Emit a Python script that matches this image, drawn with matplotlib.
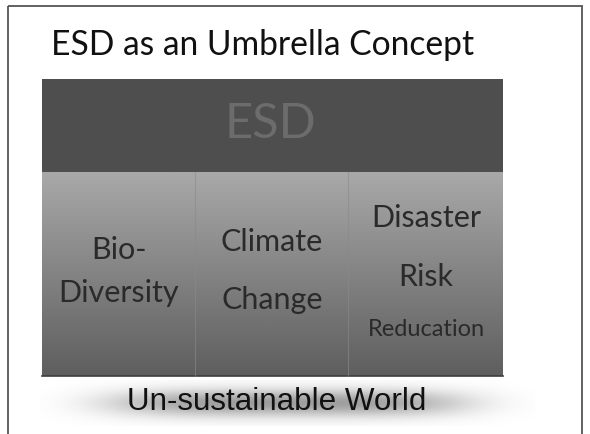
import numpy as np
import matplotlib
matplotlib.use("Agg")
import matplotlib.pyplot as plt
from matplotlib.patches import Rectangle

title = "ESD as an Umbrella Concept"
umbrella = "ESD"
columns = [["Bio-", "Diversity"], ["Climate", "Change"], ["Disaster", "Risk", "Reducation"]]
base = "Un-sustainable World"

fig = plt.figure(figsize=(5.9, 4.34), dpi=100)
ax = fig.add_axes([0, 0, 1, 1])
ax.set_xlim(0, 590)
ax.set_ylim(434, 0)
ax.axis("off")

# outer frame
ax.add_patch(Rectangle((8, 6), 574, 440, fill=False, ec="#555555", lw=1.3))

ax.text(263, 45, title, ha="center", va="center", fontsize=24.2, family="Lato", color="#111111")

# dark umbrella box
L, R = 42, 503
ax.add_patch(Rectangle((L, 79), R - L, 93, fc="#4e4e4e", ec="none"))
ax.text(270, 124, umbrella, ha="center", va="center", fontsize=35, family="Lato", color="#6c6c6c")

# gradient panel
grad = np.linspace(0.66, 0.37, 200).reshape(-1, 1)
ax.imshow(np.repeat(grad, 2, axis=1), cmap="gray", vmin=0, vmax=1, extent=(L, R, 376, 172),
          aspect="auto", interpolation="bicubic", zorder=1)
ax.plot([L, R], [375.5, 375.5], color="#3e3e3e", lw=1.2, zorder=2)
for xd in (195, 348):
    ax.plot([xd, xd], [172, 376], color="#8a8a8a", lw=0.8, alpha=0.6, zorder=2)

txt_kw = dict(ha="center", va="center", family="Lato", color="#2a2a2a", zorder=3)
col_x = [119, 272, 426]
col_y = [[250, 293], [242, 300], [218, 277, 330]]
col_fs = [[22, 22], [22, 22], [22, 22, 17]]
for cx, labels, ys, fss in zip(col_x, columns, col_y, col_fs):
    for lab, yy, fs in zip(labels, ys, fss):
        ax.text(cx, yy, lab, fontsize=fs, **txt_kw)

# soft shadow band behind base text
xs = np.linspace(-1, 1, 300)
ys = np.linspace(-1, 1, 60)
X, Y = np.meshgrid(xs, ys)
shade = 1 - 0.38 * np.exp(-(X / 0.72) ** 4) * np.exp(-(Y / 0.6) ** 2)
ax.imshow(shade, cmap="gray", vmin=0, vmax=1, extent=(40, 535, 426, 380), aspect="auto",
          interpolation="bicubic", zorder=1)
ax.text(277, 402, base, ha="center", va="center", fontsize=22.6, family="Liberation Sans",
        color="#111111", zorder=3)

fig.savefig("out.png", dpi=100)
